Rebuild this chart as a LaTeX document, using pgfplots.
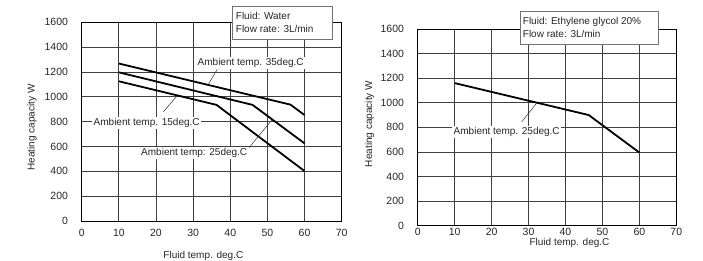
\documentclass[border=0pt]{standalone}
\usepackage{fontspec}
\setmainfont{Liberation Sans}
\usepackage{pgfplots}
\pgfplotsset{compat=1.18}
\tikzset{
  annot/.style={fill=white, inner sep=1.5pt, text height=0.72em, text depth=0.2em, font=\fontsize{10}{12}\selectfont, text=black!85},
  leader/.style={black!80, line width=0.5pt},
  boxtext/.style={anchor=base west, inner sep=0pt, font=\fontsize{10}{12}\selectfont, text=black!85},
  curve/.style={line width=1.8pt, black, sharp plot, mark=none},
}
\begin{document}
\begin{tikzpicture}
\useasboundingbox (0pt,0pt) rectangle (703pt,260pt);
\pgfplotsset{
 mystyle/.style={
  scale only axis,
  anchor=south west,
  xmin=0,xmax=70,ymin=0,ymax=1600,
  xtick={0,10,...,70}, ytick={0,200,...,1600},
  xmajorgrids=true, ymajorgrids=true,
  major grid style={draw=black!75,line width=0.7pt},
  axis line style={black,line width=0.7pt},
  tickwidth=0pt,
  tick label style={font=\fontsize{10.5}{12}\selectfont, /pgf/number format/assume math mode=true, text=black!85},
  label style={font=\fontsize{10}{12}\selectfont, text=black!85},
  scaled y ticks=false,
  /pgf/number format/1000 sep={},
  yticklabel style={anchor=east, inner sep=0pt, xshift=-13.5pt},
 }
}
\begin{axis}[mystyle,
  at={(81.7pt,39pt)}, width=260pt, height=198.7pt,
  xticklabel style={anchor=center, inner sep=0pt, yshift=-11.5pt},
  xlabel={Fluid temp. deg.C},
  ylabel={Heating capacity W},
  xlabel style={at={(axis description cs:0.468,-0.176)}, anchor=center},
  ylabel style={at={(axis description cs:-0.191,0.47)}, anchor=center},
]
\addplot[curve] coordinates {(10,1268) (56.2,937) (60,853)};
\addplot[curve] coordinates {(10,1197) (46,935) (60,625)};
\addplot[curve] coordinates {(10,1125) (36.3,935) (60,402)};
\draw[leader] (axis cs:36.5,1221) -- (axis cs:34.1,1101);
\node[annot] at (axis cs:45.5,1270) {Ambient temp. 35deg.C};
\draw[leader] (axis cs:22.0,880) -- (axis cs:25.6,1005);
\node[annot] at (axis cs:17.5,787) {Ambient temp. 15deg.C};
\draw[leader] (axis cs:44.9,585) -- (axis cs:51.4,820);
\node[annot] at (axis cs:30.3,545) {Ambient temp: 25deg.C};
\end{axis}
\draw[black!55, fill=white, line width=0.6pt] (232.3pt,220.7pt) rectangle (332.3pt,254pt);
\node[boxtext] at (235.7pt,240.6pt) {Fluid: Water};
\node[boxtext] at (235.7pt,227.5pt) {Flow rate: 3L/min};

\begin{axis}[mystyle,
  at={(417.7pt,34.3pt)}, width=258.6pt, height=196.7pt,
  xticklabel style={anchor=center, inner sep=0pt, yshift=-5.8pt},
  xlabel={Fluid temp. deg.C},
  ylabel={Heating capacity W},
  xlabel style={at={(axis description cs:0.587,-0.0864)}, anchor=center},
  ylabel style={at={(axis description cs:-0.186,0.517)}, anchor=center},
]
\addplot[curve] coordinates {(10,1160) (46.3,900) (60,595)};
\draw[leader] (axis cs:28.2,846) -- (axis cs:32.2,998);
\node[annot] at (axis cs:24.1,765) {Ambient temp. 25deg.C};
\end{axis}
\draw[black!55, fill=white, line width=0.6pt] (520.3pt,215.7pt) rectangle (658.7pt,249pt);
\node[boxtext] at (522.7pt,235.5pt) {Fluid: Ethylene glycol 20\%};
\node[boxtext] at (522.7pt,222.5pt) {Flow rate: 3L/min};
\end{tikzpicture}
\end{document}
